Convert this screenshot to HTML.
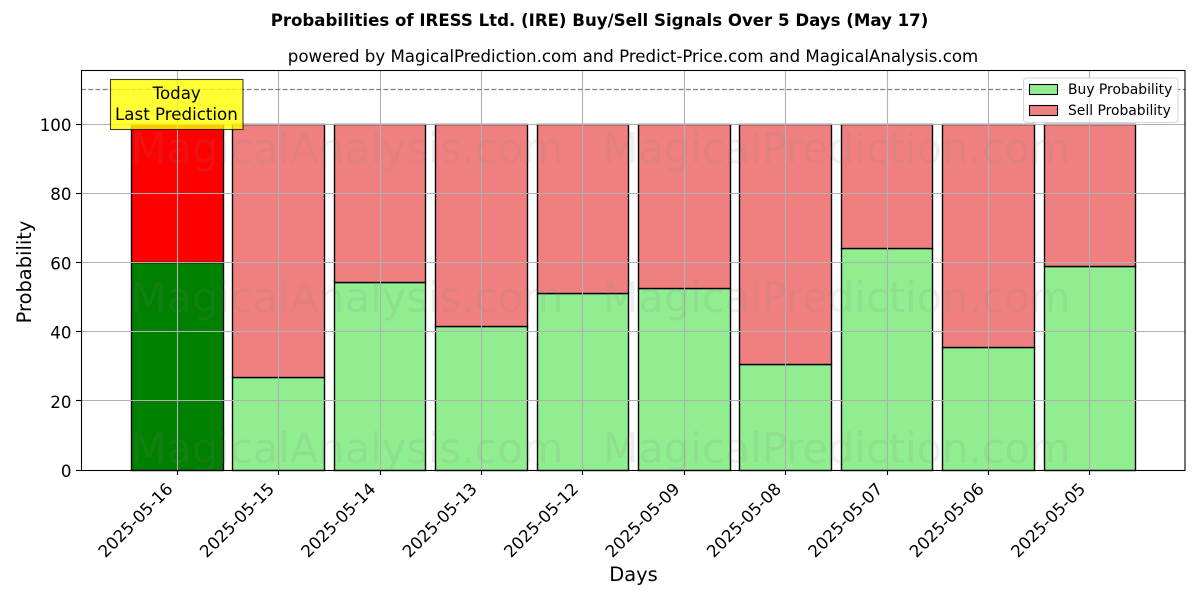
<!DOCTYPE html>
<html>
<head>
<meta charset="utf-8">
<style>
html,body{margin:0;padding:0;background:#fff;}
svg{display:block;font-family:"DejaVu Sans","Liberation Sans",sans-serif;}
</style>
</head>
<body>
<svg id="chart" width="1200" height="600" viewBox="0 0 1200 600" xmlns="http://www.w3.org/2000/svg">
<rect x="0" y="0" width="1200" height="600" fill="#fff"/>
<text x="599.5" y="26" text-anchor="middle" font-size="16.6" font-weight="bold" fill="#000">Probabilities of IRESS Ltd. (IRE) Buy/Sell Signals Over 5 Days (May 17)</text>
<text x="633" y="62" text-anchor="middle" font-size="16.63" fill="#000">powered by MagicalPrediction.com and Predict-Price.com and MagicalAnalysis.com</text>
<g id="bars"></g>
<g id="grid"></g>
<g id="watermarks"></g>
<line id="ref-line" stroke="#808080" stroke-width="1.3" stroke-dasharray="5,2.2"/>
<rect x="81.5" y="70.5" width="1103.5" height="400" fill="none" stroke="#000" stroke-width="1.1"/>
<g id="axes"></g>
<text transform="translate(31,272) rotate(-90)" text-anchor="middle" font-size="19.44" fill="#000">Probability</text>
<text x="633.5" y="581" text-anchor="middle" font-size="19.44" fill="#000">Days</text>
<g>
<rect x="110.5" y="79.5" width="132.5" height="50" fill="#ffff00" fill-opacity="0.8" stroke="#000" stroke-opacity="0.75" stroke-width="1.1"/>
<text x="176.7" y="99" text-anchor="middle" font-size="16.67" fill="#000">Today</text>
<text x="176.4" y="120" text-anchor="middle" font-size="16.67" fill="#000">Last Prediction</text>
</g>
<g>
<rect x="1023.5" y="78" width="154.5" height="44.5" rx="3" fill="#fff" fill-opacity="0.8" stroke="#cccccc" stroke-opacity="0.8" stroke-width="1"/>
<rect x="1029.5" y="84.5" width="28" height="10" fill="#90ee90" stroke="#000" stroke-width="1.1"/>
<text x="1068" y="94" font-size="13.89" fill="#000">Buy Probability</text>
<rect x="1029.5" y="105.5" width="28" height="10" fill="#f08080" stroke="#000" stroke-width="1.1"/>
<text x="1068" y="115" font-size="13.89" fill="#000">Sell Probability</text>
</g>
</svg>
<script>
const days = ["2025-05-16","2025-05-15","2025-05-14","2025-05-13","2025-05-12","2025-05-09","2025-05-08","2025-05-07","2025-05-06","2025-05-05"];
const buyProbability = [59.9, 26.8, 54.2, 41.5, 51.1, 52.5, 30.5, 64.1, 35.5, 58.8];
const sellProbability = [40.1, 73.2, 45.8, 58.5, 48.9, 47.5, 69.5, 35.9, 64.5, 41.2];
const yTicks = [0, 20, 40, 60, 80, 100];
const referenceLevel = [110];
const watermarkTexts = ["MagicalAnalysis.com", "MagicalPrediction.com"];

const NS = 'http://www.w3.org/2000/svg';
function xScale(i) { return 177.3 + i * 101.4; }
function yScale(v) { return 470 - v * 3.46; }
function snap(v) { return Math.floor(v) + 0.5; }
const barWidth = 91.6;

function make(tag, attrs, parent) {
  const el = document.createElementNS(NS, tag);
  for (const k in attrs) el.setAttribute(k, attrs[k]);
  parent.appendChild(el);
  return el;
}

const barsG = document.getElementById('bars');
days.forEach(function (d, i) {
  const left = snap(xScale(i) - barWidth / 2);
  const right = snap(xScale(i) + barWidth / 2);
  const base = snap(yScale(0));
  const buyTop = snap(yScale(buyProbability[i]));
  const sellTop = snap(yScale(buyProbability[i] + sellProbability[i]));
  const buy = make('rect', {x: left, y: buyTop, width: right - left, height: base - buyTop, fill: i === 0 ? '#008000' : '#90ee90', stroke: '#000', 'stroke-width': 1.4}, barsG);
  
  
  const sell = make('rect', {x: left, y: sellTop, width: right - left, height: buyTop - sellTop, fill: i === 0 ? '#ff0000' : '#f08080', stroke: '#000', 'stroke-width': 1.4}, barsG);
  
  
});

const gridG = document.getElementById('grid');
days.forEach(function (d, i) {
  const gx = snap(xScale(i));
  const l = make('line', {x1: gx, x2: gx, y1: 70, y2: 470, stroke: '#b0b0b0', 'stroke-width': 1.1}, gridG);
  
  
});
yTicks.forEach(function (t) {
  const gy = snap(yScale(t));
  const l = make('line', {x1: 81, x2: 1185, y1: gy, y2: gy, stroke: '#b0b0b0', 'stroke-width': 1.1}, gridG);
  
  
});

const wmG = document.getElementById('watermarks');
[148, 297, 448].forEach(function (cy) {
  const a = make('text', {x: 347, y: cy + 15, 'text-anchor': 'middle', 'font-size': 41.6, fill: '#808080', 'fill-opacity': 0.13}, wmG);
  a.textContent = watermarkTexts[0];
  
  
  const b = make('text', {x: 836.5, y: cy + 15, 'text-anchor': 'middle', 'font-size': 41.6, fill: '#808080', 'fill-opacity': 0.13}, wmG);
  b.textContent = watermarkTexts[1];
  
  
});

const ref = document.getElementById('ref-line');
ref.setAttribute('x1', 81);
ref.setAttribute('x2', 1185);
ref.setAttribute('y1', snap(yScale(referenceLevel[0])));
ref.setAttribute('y2', snap(yScale(referenceLevel[0])));

const axesG = document.getElementById('axes');
yTicks.forEach(function (t) {
  const ty = snap(yScale(t));
  const tick = make('line', {x1: 76, x2: 81, y1: ty, y2: ty, stroke: '#000', 'stroke-width': 1.1}, axesG);
  
  
  const label = make('text', {x: 71.5, y: yScale(t) + 7, 'text-anchor': 'end', 'font-size': 16.67, fill: '#000'}, axesG);
  label.textContent = t;
  
  
});
days.forEach(function (d, i) {
  const x = xScale(i);
  const tx = snap(x);
  const tick = make('line', {x1: tx, x2: tx, y1: 470, y2: 475, stroke: '#000', 'stroke-width': 1.1}, axesG);
  
  
  const label = make('text', {transform: 'translate(' + (x - 3.5) + ',490) rotate(-45)', 'text-anchor': 'end', 'font-size': 16.67, fill: '#000'}, axesG);
  label.textContent = d;
  
  
});
</script>
</body>
</html>
